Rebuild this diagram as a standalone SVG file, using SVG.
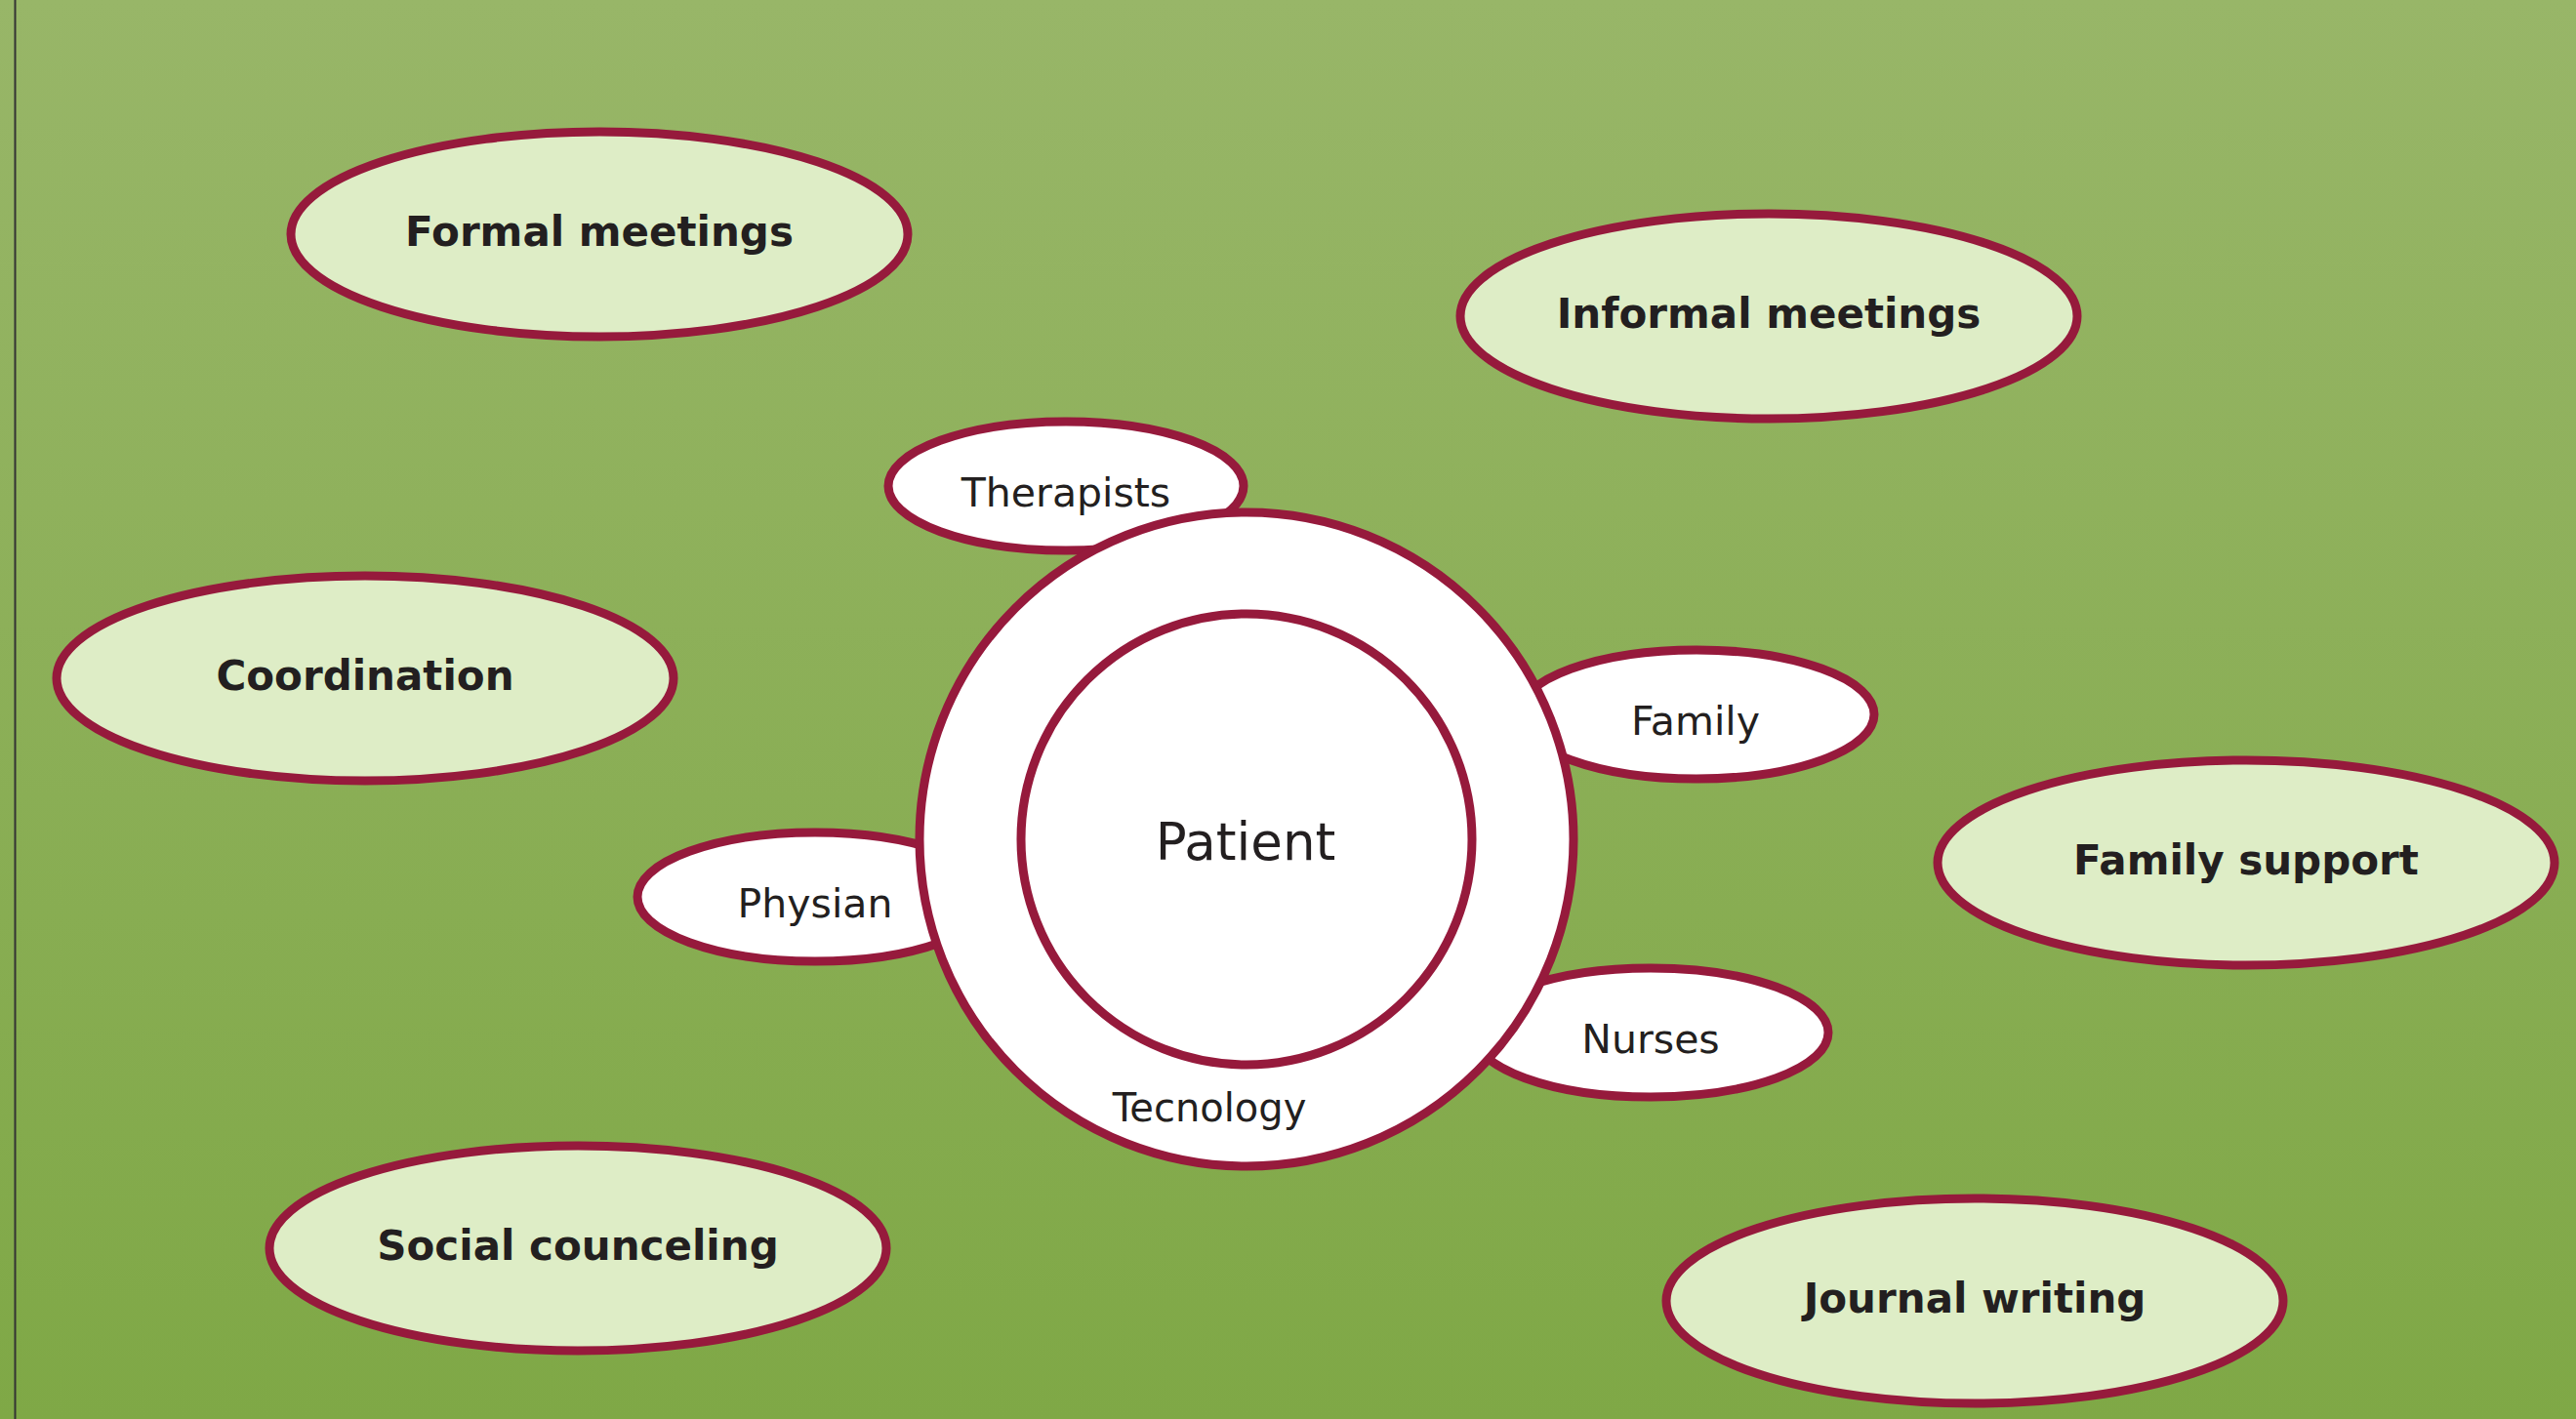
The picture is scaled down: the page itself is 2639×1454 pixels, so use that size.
<svg xmlns="http://www.w3.org/2000/svg" width="2639" height="1454" viewBox="0 0 2639 1454">
  <defs>
    <linearGradient id="bg" x1="0" y1="0" x2="0" y2="1">
      <stop offset="0" stop-color="#98b668"/>
      <stop offset="1" stop-color="#7fa846"/>
    </linearGradient>
  </defs>
  <style>
    .outer { fill: #deedc6; stroke: #961a3c; stroke-width: 9; }
    .inner { fill: #ffffff; stroke: #961a3c; stroke-width: 9; }
    .lbl { font-family: "DejaVu Sans", "Liberation Sans", sans-serif; font-weight: bold; font-size: 42px; fill: #231f20; text-anchor: middle; }
    .sm { font-family: "DejaVu Sans", "Liberation Sans", sans-serif; font-size: 41px; fill: #231f20; text-anchor: middle; }
  </style>

  <!-- background -->
  <rect x="0" y="0" width="2639" height="1454" fill="url(#bg)"/>
  <line x1="15.5" y1="0" x2="15.5" y2="1454" stroke="#333333" stroke-width="2"/>

  <!-- no connectors in this layout -->
  <g id="connectors"></g>

  <!-- surrounding activities -->
  <g id="formal-meetings">
    <ellipse class="outer" cx="614" cy="240" rx="316" ry="105"/>
    <text class="lbl" x="614" y="252">Formal meetings</text>
  </g>
  <g id="informal-meetings">
    <ellipse class="outer" cx="1812" cy="324" rx="316" ry="105"/>
    <text class="lbl" x="1812" y="336">Informal meetings</text>
  </g>
  <g id="coordination">
    <ellipse class="outer" cx="374" cy="695" rx="316" ry="105"/>
    <text class="lbl" x="374" y="707">Coordination</text>
  </g>
  <g id="family-support">
    <ellipse class="outer" cx="2301" cy="884" rx="316" ry="105"/>
    <text class="lbl" x="2301" y="896">Family support</text>
  </g>
  <g id="social-counceling">
    <ellipse class="outer" cx="592" cy="1279" rx="316" ry="105"/>
    <text class="lbl" x="592" y="1291">Social counceling</text>
  </g>
  <g id="journal-writing">
    <ellipse class="outer" cx="2023" cy="1333" rx="316" ry="105"/>
    <text class="lbl" x="2023" y="1345">Journal writing</text>
  </g>

  <!-- care team around the patient -->
  <g id="therapists">
    <ellipse class="inner" cx="1092" cy="498" rx="182" ry="66"/>
    <text class="sm" x="1092" y="519">Therapists</text>
  </g>
  <g id="family">
    <ellipse class="inner" cx="1738" cy="732" rx="182" ry="66"/>
    <text class="sm" x="1737" y="753">Family</text>
  </g>
  <g id="physian">
    <ellipse class="inner" cx="835" cy="919" rx="182" ry="66"/>
    <text class="sm" x="835" y="940">Physian</text>
  </g>
  <g id="nurses">
    <ellipse class="inner" cx="1691" cy="1058" rx="182" ry="66"/>
    <text class="sm" x="1691" y="1079">Nurses</text>
  </g>

  <!-- technology ring and patient core -->
  <g id="tecnology">
    <circle class="inner" cx="1277" cy="860" r="335"/>
    <text class="sm" x="1239" y="1149" style="font-size:40px">Tecnology</text>
  </g>
  <g id="patient">
    <circle class="inner" cx="1277" cy="860" r="231"/>
    <text class="sm" x="1276" y="881" style="font-size:53px">Patient</text>
  </g>
</svg>
